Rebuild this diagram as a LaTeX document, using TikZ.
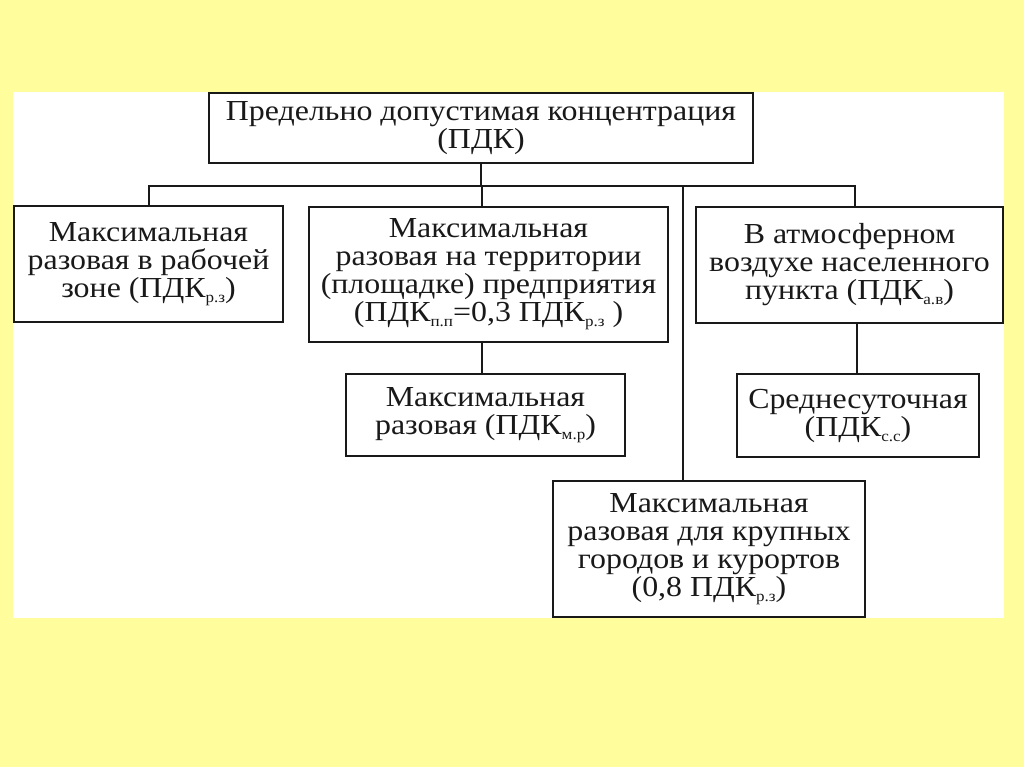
\documentclass[tikz,border=0pt]{standalone}
\usepackage{fontspec}
\setmainfont[FakeStretch=1.1]{Liberation Serif}
\newcommand{\ssub}[1]{\raisebox{-5pt}{\fontsize{15.5}{15.5}\selectfont #1}}
\definecolor{bgyellow}{RGB}{255,253,156}
\definecolor{ink}{RGB}{25,25,25}
\begin{document}
\begin{tikzpicture}[x=1pt,y=-1pt,
  box/.style={draw=ink,line width=2.4pt,fill=white,align=center,inner sep=0pt,
    font=\fontsize{29}{28}\selectfont,text=ink},
  conn/.style={draw=ink,line width=2pt}]
\fill[bgyellow] (0,0) rectangle (1024,767);
\fill[white] (13,92) rectangle (1004,618);
\useasboundingbox (0,0) rectangle (1024,767);
\node[box,minimum width=544pt,minimum height=70pt] (top) at (481,128)
  {Предельно допустимая концентрация\\(ПДК)};
\node[box,minimum width=269pt,minimum height=116pt] (b1) at (148.5,264)
  {Максимальная\\разовая в рабочей\\зоне (ПДК\ssub{р.з})};
\node[box,minimum width=359pt,minimum height=135pt] (b2) at (488.5,274.5)
  {Максимальная\\разовая на территории\\(площадке) предприятия\\(ПДК\ssub{п.п}=0,3 ПДК\ssub{р.з} )};
\node[box,minimum width=307pt,minimum height=116pt] (b4) at (849.5,265)
  {В атмосферном\\воздухе населенного\\пункта (ПДК\ssub{а.в})};
\node[box,minimum width=279pt,minimum height=82pt] (b3) at (485.5,415)
  {Максимальная\\разовая (ПДК\ssub{м.р})};
\node[box,minimum width=242pt,minimum height=83pt] (b6) at (858,415.5)
  {Среднесуточная\\(ПДК\ssub{с.с})};
\node[box,minimum width=312pt,minimum height=136pt] (b5) at (709,549)
  {Максимальная\\разовая для крупных\\городов и курортов\\(0,8 ПДК\ssub{р.з})};
\coordinate (bus) at (481,186);
\draw[conn] (top.south) -- (top.south |- bus);
\draw[conn] (b1.north) -- (b1.north |- bus) -- ([xshift=5.5pt]b4.north |- bus) -- ([xshift=5.5pt]b4.north);
\draw[conn] ([xshift=-6.5pt]b2.north) -- ([xshift=-6.5pt]b2.north |- bus);
\draw[conn] ([xshift=-26pt]b5.north) -- ([xshift=-26pt]b5.north |- bus);
\draw[conn] ([xshift=-6.5pt]b2.south) -- ([xshift=-3.5pt]b3.north);
\draw[conn] ([xshift=7.5pt]b4.south) -- ([xshift=-1pt]b6.north);
\end{tikzpicture}
\end{document}
